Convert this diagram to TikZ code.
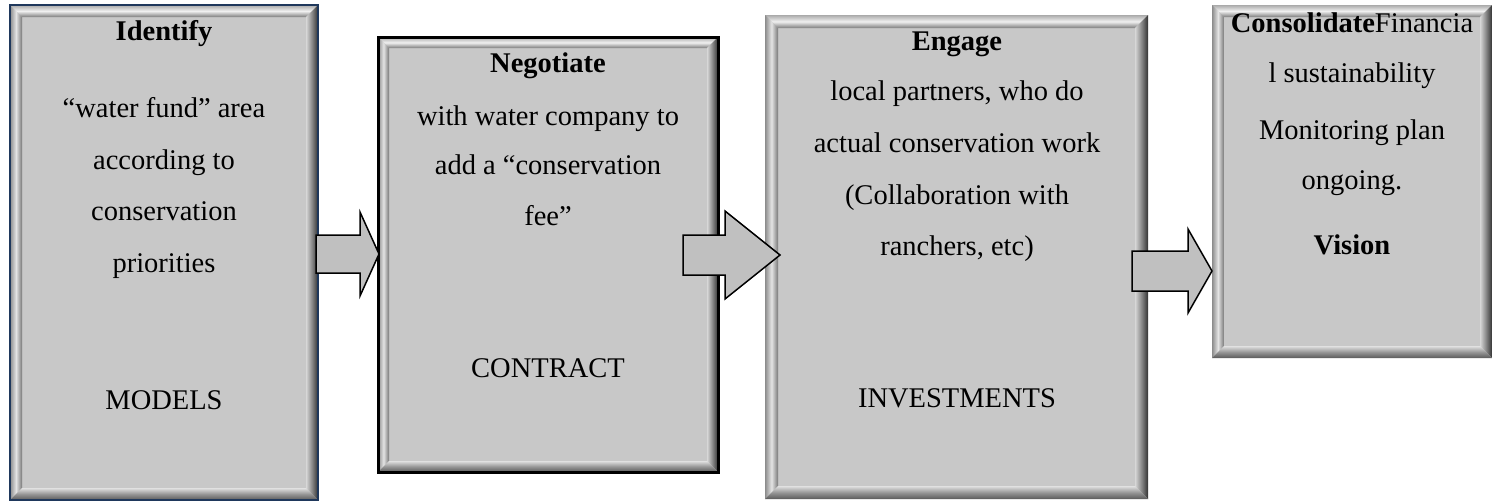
\documentclass[tikz,border=0pt]{standalone}
\usepackage{fontspec}
\setmainfont{Liberation Serif}
\usetikzlibrary{calc}
\definecolor{face}{RGB}{200,200,200}
\definecolor{arrowfill}{RGB}{192,192,192}
\definecolor{navyedge}{RGB}{31,56,92}
\definecolor{tA}{RGB}{170,170,170}
\definecolor{tB}{RGB}{240,240,240}
\definecolor{tC}{RGB}{125,125,125}
\definecolor{lA}{RGB}{140,140,140}
\definecolor{lB}{RGB}{228,228,228}
\definecolor{lC}{RGB}{120,120,120}
\definecolor{rA}{RGB}{50,50,50}
\definecolor{rB}{RGB}{135,135,135}
\definecolor{rC}{RGB}{215,215,215}
\definecolor{bA}{RGB}{90,90,90}
\definecolor{bB}{RGB}{150,150,150}
\definecolor{bC}{RGB}{225,225,225}
\tikzset{
  txt/.style={font=\fontsize{28.5}{34}\selectfont, text height=19pt, text depth=5pt, inner sep=0pt},
  blockarrow/.style={fill=arrowfill, draw=black, line width=1.5pt, line join=miter},
}
% name, x1, y1, x2, y2, bevel width
\newcommand{\bevelbox}[6]{%
  \node[inner sep=0pt, outer sep=0pt, anchor=north west, fill=face,
        minimum width={(#4-#2)*1pt}, minimum height={(#5-#3)*1pt}] (#1) at (#2,#3) {};
  \shade[top color=tA, bottom color=tC, middle color=tB]
    (#2,#3) -- (#4,#3) -- ({#4-#6},{#3+#6}) -- ({#2+#6},{#3+#6}) -- cycle;
  \shade[left color=lA, right color=lC, middle color=lB]
    (#2,#3) -- ({#2+#6},{#3+#6}) -- ({#2+#6},{#5-#6}) -- (#2,#5) -- cycle;
  \shade[left color=rC, right color=rA, middle color=rB]
    (#4,#3) -- (#4,#5) -- ({#4-#6},{#5-#6}) -- ({#4-#6},{#3+#6}) -- cycle;
  \shade[top color=bC, bottom color=bA, middle color=bB]
    (#2,#5) -- ({#2+#6},{#5-#6}) -- ({#4-#6},{#5-#6}) -- (#4,#5) -- cycle;
}
% name, x0, xbase, xtip, ycenter, shaft half, head half
\newcommand{\blkarrow}[7]{%
  \coordinate (#1s) at (#2,#5);
  \coordinate (#1t) at (#4,#5);
  \draw[blockarrow] ($(#1s)+(0,-#6)$) -- (#3,{#5-#6}) -- (#3,{#5-#7}) -- (#1t)
    -- (#3,{#5+#7}) -- (#3,{#5+#6}) -- ($(#1s)+(0,#6)$) -- cycle;
}
\begin{document}
\begin{tikzpicture}[x=1pt,y=-1pt]
\useasboundingbox (0,0) rectangle (1493,501);
\fill[white] (0,0) rectangle (1493,501);

% boxes
\bevelbox{b1}{10}{5}{318}{500}{12}
\draw[navyedge, line width=2.5pt] (b1.north west) rectangle (b1.south east);
\bevelbox{b2}{378}{37}{718}{472}{11}
\draw[black, line width=3pt] (b2.north west) rectangle (b2.south east);
\bevelbox{b3}{765}{15}{1148}{499}{13}
\bevelbox{b4}{1212}{5}{1492}{358}{12}

% arrows
\blkarrow{a1}{316}{360}{379}{254}{19}{42}
\blkarrow{a2}{683}{725}{780}{255}{20}{44}
\blkarrow{a3}{1132}{1188}{1212}{271}{20}{42}

% texts box 1
\node[txt] (t1a) at (164,33) {\textbf{Identify}};
\node[txt] (t1b) at (164,110) {“water fund” area};
\node[txt] (t1c) at (164,162) {according to};
\node[txt] (t1d) at (164,213) {conservation};
\node[txt] (t1e) at (164,265) {priorities};
\node[txt] (t1f) at (164,402) {MODELS};

% texts box 2
\node[txt] (t2a) at (548,65) {\textbf{Negotiate}};
\node[txt] (t2b) at (548,118) {with water company to};
\node[txt] (t2c) at (548,167) {add a “conservation};
\node[txt] (t2d) at (548,218) {fee”};
\node[txt] (t2e) at (548,370) {CONTRACT};

% texts box 3
\node[txt] (t3a) at (957,43) {\textbf{Engage}};
\node[txt] (t3b) at (957,93) {local partners, who do};
\node[txt] (t3c) at (957,145) {actual conservation work};
\node[txt] (t3d) at (957,197) {(Collaboration with};
\node[txt] (t3e) at (957,248) {ranchers, etc)};
\node[txt] (t3f) at (957,400) {INVESTMENTS};

% texts box 4
\node[txt] (t4a) at (1352,25) {\textbf{Consolidate}Financia};
\node[txt] (t4b) at (1352,75) {l sustainability};
\node[txt] (t4c) at (1352,132) {Monitoring plan};
\node[txt] (t4d) at (1352,182) {ongoing.};
\node[txt] (t4e) at (1352,247) {\textbf{Vision}};
\end{tikzpicture}
\end{document}
